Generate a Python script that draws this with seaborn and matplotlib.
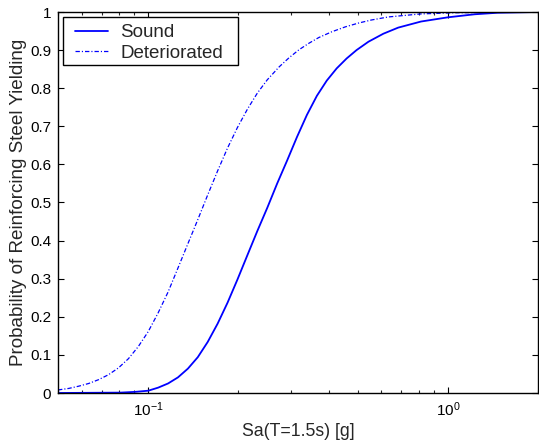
import matplotlib
matplotlib.use("Agg")
import matplotlib.pyplot as plt
import seaborn as sns
import numpy as np
from matplotlib.ticker import LogLocator, NullFormatter, FixedLocator
from matplotlib.patches import Rectangle

# Data
sound_sa = [0.05, 0.0808, 0.0906, 0.1, 0.1079, 0.1165, 0.1257, 0.1357, 0.1464,
            0.1580, 0.1705, 0.1840, 0.1986, 0.2144, 0.2313, 0.2497, 0.2695, 0.2908,
            0.3138, 0.3387, 0.3656, 0.3945, 0.4257, 0.4595, 0.4959, 0.5434, 0.6093,
            0.6830, 0.8140, 1.0, 1.2288, 1.4640, 2.0]
sound_p = [0.0, 0.001, 0.003, 0.006, 0.014, 0.025, 0.041, 0.064, 0.094,
           0.134, 0.182, 0.237, 0.298, 0.362, 0.425, 0.486, 0.550, 0.610,
           0.672, 0.730, 0.780, 0.820, 0.852, 0.878, 0.900, 0.922, 0.943,
           0.959, 0.975, 0.986, 0.994, 0.998, 1.0]

det_sa = [0.05, 0.0543, 0.0587, 0.0633, 0.0683, 0.0737, 0.0796, 0.0859, 0.0927,
          0.1, 0.1079, 0.1165, 0.1257, 0.1357, 0.1464, 0.1580, 0.1705, 0.1840,
          0.1986, 0.2144, 0.2313, 0.2497, 0.2736, 0.2953, 0.3187, 0.3439, 0.3711,
          0.4098, 0.4550, 0.5036, 0.5559, 0.6329, 0.8140, 1.0548, 2.0]
det_p = [0.008, 0.012, 0.018, 0.025, 0.035, 0.048, 0.066, 0.090, 0.122,
         0.161, 0.210, 0.265, 0.328, 0.392, 0.455, 0.520, 0.583, 0.643,
         0.697, 0.745, 0.787, 0.822, 0.856, 0.880, 0.901, 0.918, 0.933,
         0.948, 0.961, 0.971, 0.979, 0.987, 0.995, 0.998, 1.0]

labels = ["Sound", "Deteriorated"]
yticks = [0, 0.1, 0.2, 0.3, 0.4, 0.5, 0.6, 0.7, 0.8, 0.9, 1]
ytick_labels = ["0", "0.1", "0.2", "0.3", "0.4", "0.5", "0.6", "0.7", "0.8", "0.9", "1"]

sns.set_style("ticks")
plt.rcParams['font.family'] = ['Liberation Sans', 'DejaVu Sans']
plt.rcParams['mathtext.fontset'] = 'custom'
plt.rcParams['mathtext.rm'] = 'Liberation Sans'
plt.rcParams['mathtext.it'] = 'Liberation Sans'
plt.rcParams['mathtext.bf'] = 'Liberation Sans'
plt.rcParams['axes.unicode_minus'] = False

fig = plt.figure(figsize=(5.39, 4.44), dpi=100)
ax = fig.add_axes([58/539, 51/444, 480/539, 381/444])

sns.lineplot(x=sound_sa, y=sound_p, ax=ax, color="#0000ff", linewidth=1.3,
             label=labels[0], sort=False, estimator=None)
sns.lineplot(x=det_sa, y=det_p, ax=ax, color="#0000ff", linewidth=0.9,
             linestyle=(0, (3.5, 1.6, 0.9, 1.6)), label=labels[1], sort=False, estimator=None)

ax.set_xscale("log")
ax.set_xlim(0.05, 2.0)
ax.set_ylim(0, 1)
ax.yaxis.set_major_locator(FixedLocator(yticks))
ax.set_yticklabels(ytick_labels)
ax.xaxis.set_major_locator(LogLocator(base=10))
ax.xaxis.set_minor_locator(LogLocator(base=10, subs=np.arange(2, 10)))
ax.xaxis.set_minor_formatter(NullFormatter())

ax.tick_params(axis="both", which="major", direction="in", length=4, width=0.8,
               top=True, right=True, labelsize=11, colors="black", pad=5)
ax.tick_params(axis="both", which="minor", direction="in", length=2.5, width=0.8,
               top=True, right=True)
for s in ax.spines.values():
    s.set_visible(True)
    s.set_color("black")
    s.set_linewidth(1.0)

ax.set_xlabel("Sa(T=1.5s) [g]", fontsize=12.7, labelpad=3)
ax.set_ylabel("Probability of Reinforcing Steel Yielding", fontsize=13.6, labelpad=2)

# legend frame (drawn separately so its padding matches the reference)
frame = Rectangle((5/480, 1 - 53/381), 175/480, 48/381, transform=ax.transAxes,
                  facecolor="white", edgecolor="black", linewidth=1.0, zorder=4)
ax.add_patch(frame)
leg = ax.legend(loc="upper left", bbox_to_anchor=(17/480, 1 - 12/381), fontsize=13.5,
                frameon=False, handlelength=1.76, handletextpad=0.64, borderpad=0.0,
                labelspacing=0.19, borderaxespad=0)
leg.set_zorder(5)

fig.savefig("out.png", dpi=100)
